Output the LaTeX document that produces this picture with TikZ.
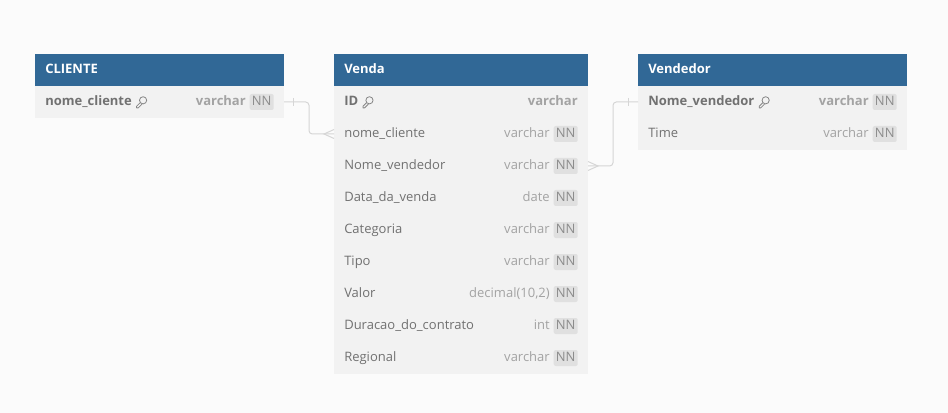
\documentclass[tikz,border=0pt]{standalone}
\usepackage{fontspec}
\setmainfont{Open Sans}
\definecolor{fond}{HTML}{FBFBFB}
\definecolor{entete}{HTML}{316896}
\definecolor{ligne}{HTML}{F2F2F2}
\definecolor{badge}{HTML}{E0E0E0}
\definecolor{arc}{HTML}{D6D6D6}
\definecolor{texte}{HTML}{717171}
\definecolor{type}{HTML}{A3A3A3}
\definecolor{nn}{HTML}{8C8C8C}
\definecolor{clef}{HTML}{858585}
\begin{document}
\begin{tikzpicture}[x=0.75pt,y=-0.75pt]
	% Styles
	\tikzstyle{ecrit}=[inner sep=0pt,font=\fontsize{9.75pt}{11pt}\selectfont,text height=7.5pt,text depth=2.25pt]
	\tikzstyle{titre}=[ecrit,anchor=west,white,font=\fontsize{9.75pt}{11pt}\selectfont\bfseries]
	\tikzstyle{champ}=[ecrit,anchor=west,texte]
	\tikzstyle{champcle}=[champ,font=\fontsize{9.75pt}{11pt}\selectfont\bfseries]
	\tikzstyle{genre}=[ecrit,anchor=east,type]
	\tikzstyle{genrecle}=[genre,font=\fontsize{9.75pt}{11pt}\selectfont\bfseries]
	\tikzstyle{nonnul}=[ecrit,anchor=east,nn,fill=badge,rounded corners=1.5pt,minimum width=18pt,minimum height=12pt,align=center]
	\tikzstyle{cle}=[clef,line width=0.6pt,line join=round]
	\tikzstyle{fleche}=[arc,line width=0.75pt,rounded corners=2.5pt]
	\tikzstyle{patte}=[arc,line width=0.75pt]
	% Dimensions
	\def\Ligne{32}
	\def\Debut{70}
	\def\ClienteG{35}
	\def\ClienteD{284}
	\def\VendaG{334}
	\def\VendaD{588}
	\def\VendeurG{638}
	\def\VendeurD{907}
	% Fond
	\fill[fond] (0,0) rectangle (948,413);
	\useasboundingbox (0,0) rectangle (948,413);
	% Blocs
	\fill[ligne] (\ClienteG,86) rectangle (\ClienteD,118);
	\fill[ligne] (\VendaG,86) rectangle (\VendaD,374);
	\fill[ligne] (\VendeurG,86) rectangle (\VendeurD,150);
	\fill[entete] (\ClienteG,54) rectangle (\ClienteD,86);
	\fill[entete] (\VendaG,54) rectangle (\VendaD,86);
	\fill[entete] (\VendeurG,54) rectangle (\VendeurD,86);
	% Noeuds : CLIENTE
	\node[titre] (C) at ({\ClienteG+10},{\Debut}) {CLIENTE};
	\node[champcle] (Ca) at ({\ClienteG+10},{\Debut+(1)*\Ligne}) {nome\_cliente};
	\node[nonnul] (Cann) at ({\ClienteD-10},{\Debut+(1)*\Ligne}) {NN};
	\node[genrecle] (Catype) at ([xshift=-2.6pt]Cann.west) {varchar};
	% Noeuds : Venda
	\node[titre] (V) at ({\VendaG+10},{\Debut}) {Venda};
	\node[champcle] (Va) at ({\VendaG+10},{\Debut+(1)*\Ligne}) {ID};
	\node[genrecle] (Vatype) at ({\VendaD-10},{\Debut+(1)*\Ligne}) {varchar};
	\node[champ] (Vb) at ({\VendaG+10},{\Debut+(2)*\Ligne}) {nome\_cliente};
	\node[nonnul] (Vbnn) at ({\VendaD-10},{\Debut+(2)*\Ligne}) {NN};
	\node[genre] (Vbtype) at ([xshift=-2.6pt]Vbnn.west) {varchar};
	\node[champ] (Vc) at ({\VendaG+10},{\Debut+(3)*\Ligne}) {Nome\_vendedor};
	\node[nonnul] (Vcnn) at ({\VendaD-10},{\Debut+(3)*\Ligne}) {NN};
	\node[genre] (Vctype) at ([xshift=-2.6pt]Vcnn.west) {varchar};
	\node[champ] (Vd) at ({\VendaG+10},{\Debut+(4)*\Ligne}) {Data\_da\_venda};
	\node[nonnul] (Vdnn) at ({\VendaD-10},{\Debut+(4)*\Ligne}) {NN};
	\node[genre] (Vdtype) at ([xshift=-2.6pt]Vdnn.west) {date};
	\node[champ] (Ve) at ({\VendaG+10},{\Debut+(5)*\Ligne}) {Categoria};
	\node[nonnul] (Venn) at ({\VendaD-10},{\Debut+(5)*\Ligne}) {NN};
	\node[genre] (Vetype) at ([xshift=-2.6pt]Venn.west) {varchar};
	\node[champ] (Vf) at ({\VendaG+10},{\Debut+(6)*\Ligne}) {Tipo};
	\node[nonnul] (Vfnn) at ({\VendaD-10},{\Debut+(6)*\Ligne}) {NN};
	\node[genre] (Vftype) at ([xshift=-2.6pt]Vfnn.west) {varchar};
	\node[champ] (Vg) at ({\VendaG+10},{\Debut+(7)*\Ligne}) {Valor};
	\node[nonnul] (Vgnn) at ({\VendaD-10},{\Debut+(7)*\Ligne}) {NN};
	\node[genre] (Vgtype) at ([xshift=-2.6pt]Vgnn.west) {decimal(10,2)};
	\node[champ] (Vh) at ({\VendaG+10},{\Debut+(8)*\Ligne}) {Duracao\_do\_contrato};
	\node[nonnul] (Vhnn) at ({\VendaD-10},{\Debut+(8)*\Ligne}) {NN};
	\node[genre] (Vhtype) at ([xshift=-2.6pt]Vhnn.west) {int};
	\node[champ] (Vi) at ({\VendaG+10},{\Debut+(9)*\Ligne}) {Regional};
	\node[nonnul] (Vinn) at ({\VendaD-10},{\Debut+(9)*\Ligne}) {NN};
	\node[genre] (Vitype) at ([xshift=-2.6pt]Vinn.west) {varchar};
	% Noeuds : Vendedor
	\node[titre] (D) at ({\VendeurG+10},{\Debut}) {Vendedor};
	\node[champcle] (Da) at ({\VendeurG+10},{\Debut+(1)*\Ligne}) {Nome\_vendedor};
	\node[nonnul] (Dann) at ({\VendeurD-10},{\Debut+(1)*\Ligne}) {NN};
	\node[genrecle] (Datype) at ([xshift=-2.6pt]Dann.west) {varchar};
	\node[champ] (Db) at ({\VendeurG+10},{\Debut+(2)*\Ligne}) {Time};
	\node[nonnul] (Dbnn) at ({\VendeurD-10},{\Debut+(2)*\Ligne}) {NN};
	\node[genre] (Dbtype) at ([xshift=-2.6pt]Dbnn.west) {varchar};
	% Cles
	\draw[cle] (Ca.east)++(11,-1.7) circle (3.6);
	\draw[cle] (Ca.east)++(8.2,0.6)--++(-3.7,3.7)--++(0,1.6)--++(1.6,0)--++(3.8,-3.8);
	\draw[cle] (Va.east)++(11,-1.7) circle (3.6);
	\draw[cle] (Va.east)++(8.2,0.6)--++(-3.7,3.7)--++(0,1.6)--++(1.6,0)--++(3.8,-3.8);
	\draw[cle] (Da.east)++(11,-1.7) circle (3.6);
	\draw[cle] (Da.east)++(8.2,0.6)--++(-3.7,3.7)--++(0,1.6)--++(1.6,0)--++(3.8,-3.8);
	% Bouts des arcs
	\coordinate (Csort) at (\ClienteD,{\Debut+(1)*\Ligne});
	\coordinate (Ventre) at (\VendaG,{\Debut+(2)*\Ligne});
	\coordinate (Vsort) at (\VendaD,{\Debut+(3)*\Ligne});
	\coordinate (Dentre) at (\VendeurG,{\Debut+(1)*\Ligne});
	% Arcs
	\draw[fleche] (Csort)--++(25,0)|-(Ventre);
	\draw[fleche] (Vsort)--++(25,0)|-(Dentre);
	\draw[patte] (Csort)++(9,-4)--++(0,8);
	\draw[patte] (Dentre)++(-10,-4)--++(0,8);
	\draw[patte] (Ventre)++(0,-4.5)--++(-10,4.5)--++(10,4.5);
	\draw[patte] (Vsort)++(0,-4.5)--++(10,4.5)--++(-10,4.5);
\end{tikzpicture}
\end{document}
